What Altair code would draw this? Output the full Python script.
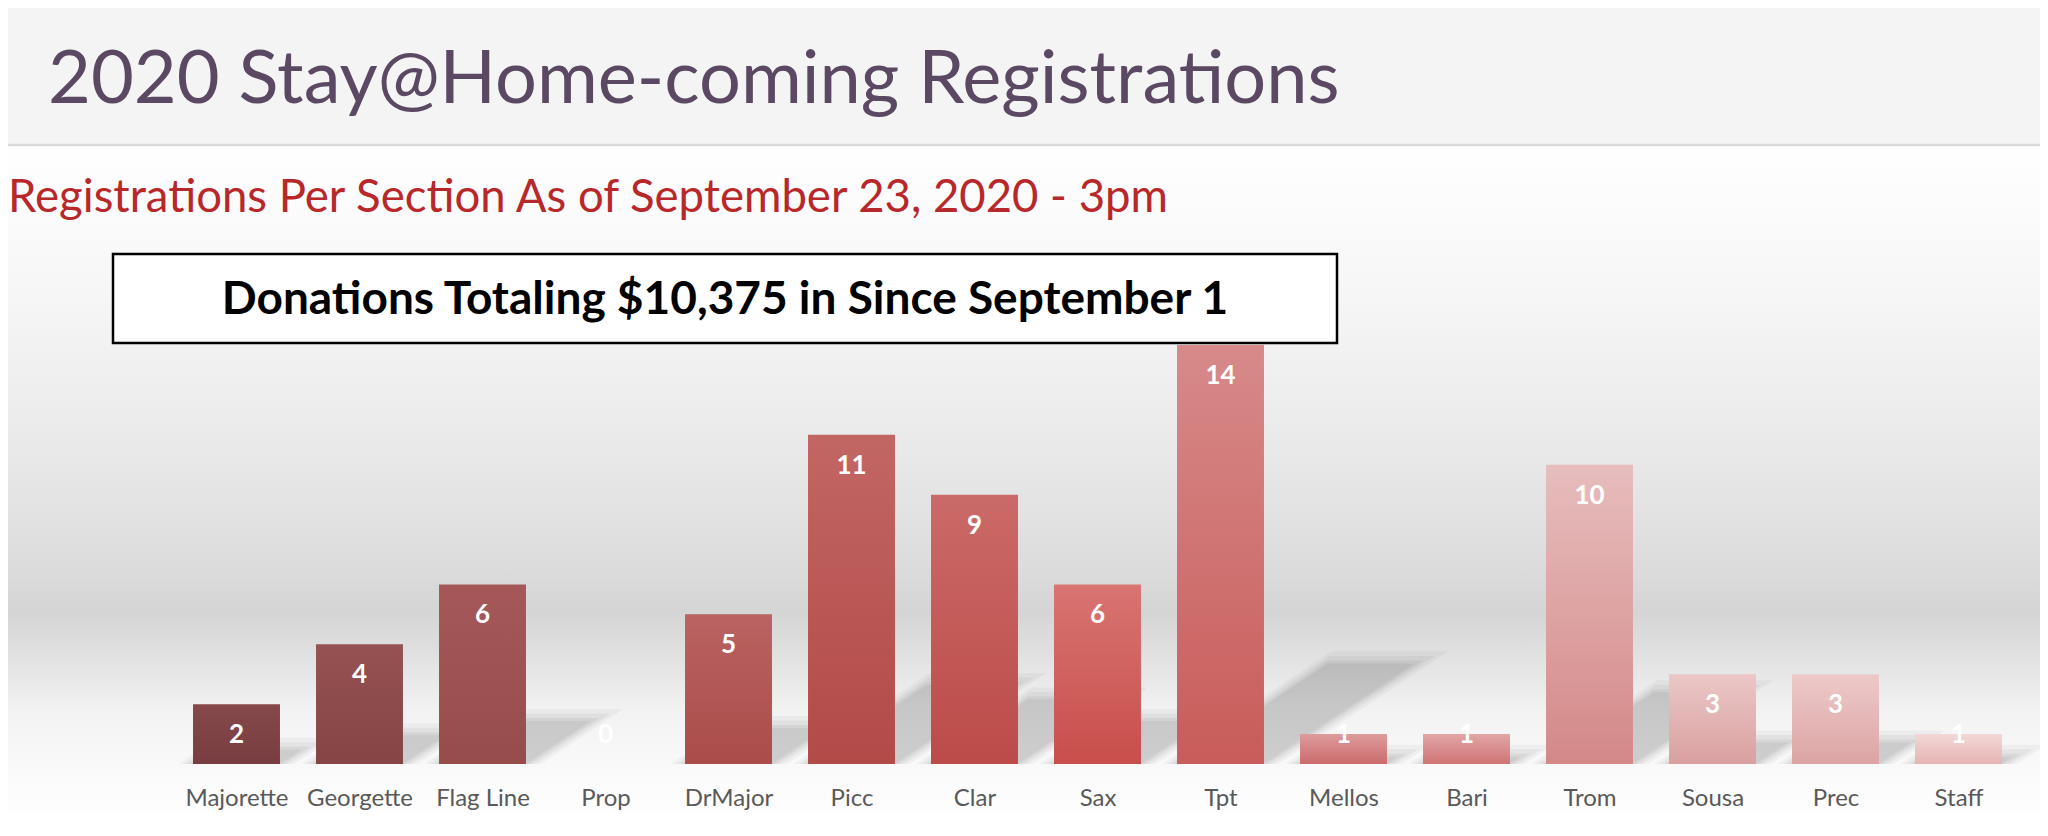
import altair as alt
import pandas as pd

# ---------------- data ----------------
sections = ["Majorette", "Georgette", "Flag Line", "Prop", "DrMajor", "Picc", "Clar",
            "Sax", "Tpt", "Mellos", "Bari", "Trom", "Sousa", "Prec", "Staff"]
registrations = [2, 4, 6, 0, 5, 11, 9, 6, 14, 1, 1, 10, 3, 3, 1]

title_text = "2020 Stay@Home-coming Registrations"
subtitle_text = "Registrations Per Section As of September 23, 2020 - 3pm"
banner_text = "Donations Totaling $10,375 in Since September 1"

# ---------------- styles ----------------
top_colors = ["#85494b", "#965253", "#a65859", "#b25c5c", "#ba6362", "#c26664", "#ca6a68",
              "#d87472", "#d78a8a", "#dd9c9c", "#e1a6a6", "#e7bdbd", "#ebc7c7", "#edc9c9", "#f2d7d7"]
bottom_colors = ["#783d40", "#864445", "#974c4c", "#a44a4a", "#aa4c4a", "#b24a48", "#bc4b49",
                 "#c84e4a", "#c85c5a", "#cc6a6a", "#d07474", "#d48888", "#daa0a0", "#dca4a4", "#e6b4b4"]

FONT = "Lato"
W, H = 1845, 419          # plot area
OX, OY = 175, 345         # plot origin on the page
PAGE_W, PAGE_H = 2048, 836
PAD = 0.1465              # half of the gap between bars, in band units
N = len(sections)
YMAX = 14
SH_H = 0.24               # shadow height relative to bar height
SH_SKEW = 0.365           # horizontal shift (band units) per value unit of shadow height

df = pd.DataFrame({"section": sections, "value": registrations, "idx": list(range(N))})
one = alt.Data(values=[{"k": 1}])

names_js = "[" + ",".join("'" + s + "'" for s in sections) + "]"
x_scale = alt.Scale(domain=[0, N], nice=False, zero=False)
y_scale = alt.Scale(domain=[0, YMAX], nice=False, zero=True)
x_axis = alt.Axis(title=None, labelAngle=0, domain=False, ticks=False, grid=False,
                  values=[i + 0.5 for i in range(N)],
                  labelExpr=names_js + "[floor(datum.value)]",
                  labelFont=FONT, labelFontSize=24, labelColor="#595959",
                  labelBaseline="alphabetic", labelPadding=41, labelFlush=False,
                  labelOverlap=False, zindex=1)


def px(v):
    return v - OX


def py(v):
    return v - OY


def grad(stops):
    return alt.Gradient(gradient="linear", x1=0, x2=0, y1=0, y2=1,
                        stops=[alt.GradientStop(offset=o, color=c) for o, c in stops])


# header band
header = alt.Chart(one).mark_rect(color="#f4f4f4").encode(
    x=alt.value(px(0)), x2=alt.value(px(PAGE_W)), y=alt.value(py(0)), y2=alt.value(py(145)))
header_line = alt.Chart(one).mark_rule(color="#d9d9d9", strokeWidth=2.5).encode(
    x=alt.value(px(0)), x2=alt.value(px(PAGE_W)), y=alt.value(py(145)))

bg_stops = [(0.0, "#ffffff"), (0.22, "#f6f6f6"), (0.44, "#e9e9e9"), (0.60, "#dddddd"),
            (0.675, "#d5d5d5"), (0.73, "#dfdfdf"), (0.817, "#f2f2f2"), (0.92, "#fbfbfb"),
            (1.0, "#ffffff")]
background = alt.Chart(one).mark_rect(color=grad(bg_stops)).encode(
    x=alt.value(px(0)), x2=alt.value(px(PAGE_W)), y=alt.value(py(146)), y2=alt.value(py(PAGE_H)))


# perspective shadows: skewed parallelograms behind each bar, blurred by stacking
def shadow(expand_x, expand_y, opacity):
    return alt.Chart(df).transform_filter("datum.value > 0").transform_calculate(
        t="sequence(0, 2)").transform_flatten(["t"]).transform_calculate(
        hh=f"datum.t * ({SH_H} * datum.value + {expand_y})",
        sh=f"datum.t * {SH_SKEW} * ({SH_H} * datum.value + {expand_y})").transform_calculate(
        xa=f"datum.idx + {PAD} - {expand_x} + datum.sh",
        xb=f"datum.idx + {1 - PAD} + {expand_x} + datum.sh"
    ).mark_area(orient="horizontal", color="black", opacity=opacity).encode(
        y=alt.Y("hh:Q", scale=y_scale, axis=None),
        x=alt.X("xa:Q", scale=x_scale, axis=x_axis), x2="xb:Q",
        detail="section:N")


shadows = [shadow(0.12, 0.40, 0.035), shadow(0.075, 0.25, 0.045),
           shadow(0.035, 0.10, 0.05), shadow(0.0, 0.0, 0.05)]

bars = []
for s, tc, bc in zip(sections, top_colors, bottom_colors):
    bars.append(
        alt.Chart(df).transform_filter(alt.datum.section == s).transform_calculate(
            xa=f"datum.idx + {PAD}", xb=f"datum.idx + {1 - PAD}", y0="0"
        ).mark_rect(color=grad([(0, tc), (1, bc)])).encode(
            x=alt.X("xa:Q", scale=x_scale, axis=x_axis), x2="xb:Q",
            y=alt.Y("value:Q", scale=y_scale, axis=None), y2="y0:Q")
    )

labels = alt.Chart(df).transform_calculate(
    lab_x="datum.idx + 0.5", lab_y="max(datum.value - 1, 1)"
).mark_text(font=FONT, fontSize=26, fontWeight="bold", color="white", baseline="middle", dy=1).encode(
    x=alt.X("lab_x:Q", scale=x_scale, axis=x_axis),
    y=alt.Y("lab_y:Q", scale=y_scale, axis=None),
    text="value:Q")

box = alt.Chart(one).mark_rect(fill="white", stroke="black", strokeWidth=2.5).encode(
    x=alt.value(px(113)), x2=alt.value(px(1337)), y=alt.value(py(254)), y2=alt.value(py(343)))
box_text = alt.Chart(one).mark_text(font=FONT, fontSize=46, fontWeight="bold", color="black",
                                    align="center", baseline="alphabetic").encode(
    x=alt.value(px(725)), y=alt.value(py(314)), text=alt.value(banner_text))

title = alt.Chart(one).mark_text(font=FONT, fontSize=74, color="#5b4862",
                                 align="left", baseline="alphabetic").encode(
    x=alt.value(px(48)), y=alt.value(py(103)), text=alt.value(title_text))
subtitle = alt.Chart(one).mark_text(font=FONT, fontSize=45.5, color="#b8282a",
                                    align="left", baseline="alphabetic").encode(
    x=alt.value(px(8)), y=alt.value(py(212)), text=alt.value(subtitle_text))

chart = alt.layer(header, background, header_line, *shadows, *bars, labels,
                  box, box_text, title, subtitle).properties(
    width=W, height=H,
    autosize=alt.AutoSizeParams(type="none"),
    padding={"left": OX - 8, "top": OY - 8, "right": 20, "bottom": 50},
).configure_view(stroke=None).configure(background="white")

chart.save("out.html", embed_options={"renderer": "svg", "actions": False})
